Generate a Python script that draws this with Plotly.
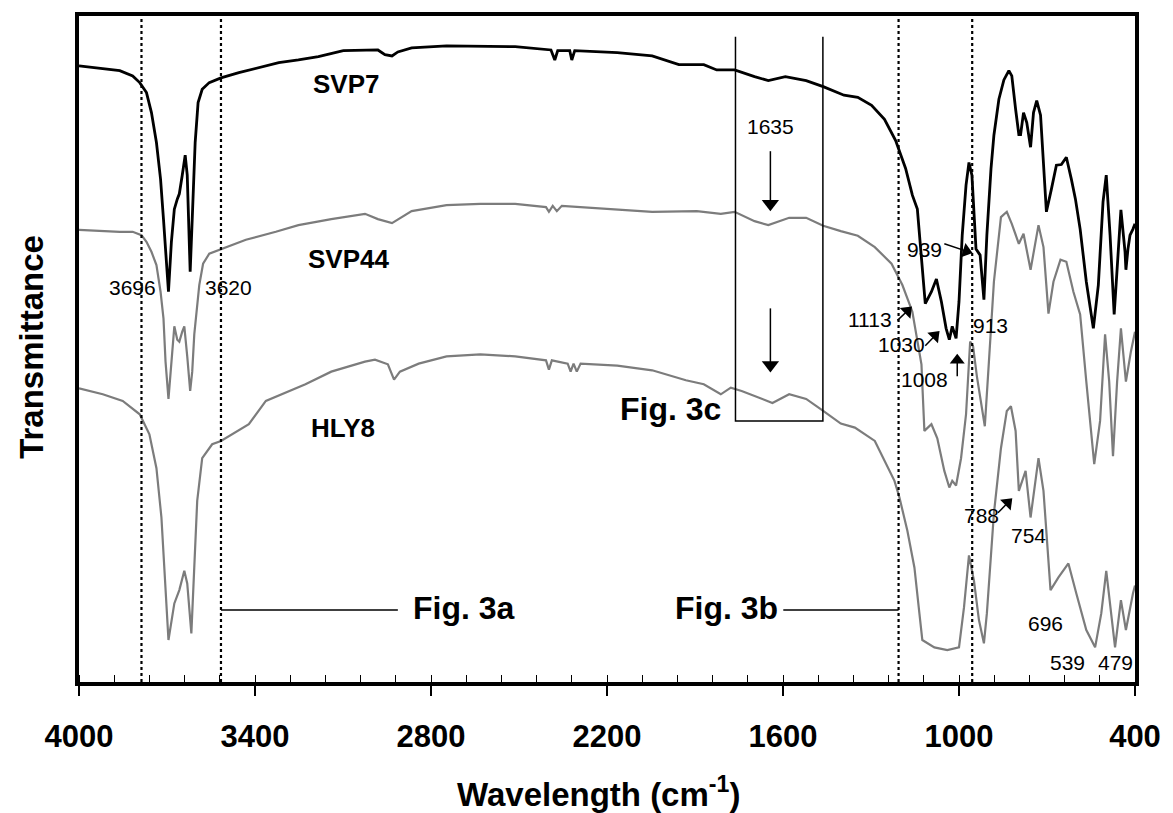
import plotly.graph_objects as go

# ---------------- data (wavenumber in cm-1, transmittance in arbitrary %) ----------------
svp7_wn = [4000,3929,3861,3817,3793,3770,3753,3736,3722,3712,3702,3695,3685,3675,3665,3658,3648,3638,3631,3624,
           3621,3614,3604,3594,3580,3556,3516,3455,3387,3319,3252,3184,3099,2981,2957,2933,2913,2866,2747,2632,
           2513,2391,2378,2368,2327,2320,2310,2165,2046,1955,1870,1826,1765,1697,1650,1592,1521,1463,1392,1345,
           1298,1254,1216,1182,1159,1142,1125,1115,1094,1077,1060,1044,1033,1023,1010,1000,989,976,966,956,
           942,928,915,905,891,881,864,847,830,820,807,796,790,780,769,756,746,735,722,712,
           702,685,668,651,634,617,603,587,566,542,525,509,498,485,471,461,448,434,431,424,417,407,400]
svp7_t = [92.5,92.2,91.8,91.0,90.0,88.5,85.5,81.0,75.5,69.5,63.1,58.6,66.1,71.0,72.5,73.3,76.1,79.1,76.1,67.1,
          61.6,69.5,81.0,87.0,89.0,90.0,90.7,91.5,92.2,93.0,93.4,93.9,94.8,94.9,94.2,94.0,94.6,95.2,95.5,95.5,
          95.4,94.9,93.4,94.8,94.8,93.4,94.8,94.5,94.0,92.7,92.7,91.9,91.9,90.9,90.3,90.9,90.3,89.4,88.1,87.8,
          86.6,84.5,81.3,77.1,73.1,71.0,62.0,56.8,58.6,60.5,57.1,53.1,51.4,53.4,51.6,57.1,67.1,74.6,78.0,76.1,
          65.0,64.1,57.4,67.1,77.0,82.1,87.5,90.4,91.8,91.0,86.0,82.2,82.2,85.5,84.0,80.3,85.5,87.3,85.1,78.0,
          70.6,74.0,77.6,77.7,78.8,75.5,72.5,68.0,60.1,53.1,59.6,72.1,76.1,67.1,55.2,62.0,70.9,64.6,61.9,65.0,
          67.1,68.0,68.8]

svp44_wn = [4000,3929,3861,3817,3787,3770,3753,3736,3722,3712,3705,3695,3685,3675,3665,3658,3648,3641,3631,3621,
            3614,3607,3590,3577,3556,3516,3431,3329,3252,3140,3025,2981,2933,2866,2747,2632,2513,2408,2398,2385,
            2371,2354,2280,2046,1894,1812,1765,1697,1650,1579,1521,1463,1403,1345,1287,1230,1193,1159,1128,1118,
            1094,1074,1050,1033,1023,1010,993,976,962,952,939,922,912,898,881,857,837,820,796,780,
            756,729,712,695,678,654,634,610,587,566,539,519,502,488,475,461,448,431,414,400]
svp44_t = [67.9,67.7,67.6,67.6,67.1,66.1,64.6,62.6,58.6,54.6,48.1,42.5,48.1,53.4,51.4,51.1,52.6,53.4,48.9,43.7,
           46.6,52.2,59.6,62.8,64.3,65.0,66.4,67.6,68.6,69.5,70.3,69.5,68.9,70.7,71.6,71.8,71.8,71.3,70.6,71.5,
           70.7,71.5,71.3,70.6,70.7,70.3,70.6,69.2,68.6,69.7,69.7,68.5,67.7,67.0,65.3,62.8,59.6,55.6,47.7,37.7,
           38.7,36.6,31.7,29.2,30.2,29.5,33.6,40.2,51.1,50.4,45.9,40.7,38.4,48.1,60.1,69.8,70.6,68.8,65.8,67.3,
           61.9,68.6,65.3,55.3,60.1,63.4,63.1,58.6,55.2,45.1,32.7,39.2,52.2,45.1,33.9,45.1,53.1,45.1,49.6,52.6]

hly8_wn = [4000,3919,3851,3793,3760,3736,3719,3705,3695,3675,3658,3641,3631,3617,3607,3597,3580,3546,3516,3478,
           3421,3363,3296,3228,3140,3025,2991,2947,2926,2906,2842,2747,2632,2513,2408,2398,2388,2334,2324,2314,
           2303,2290,2165,2046,1931,1870,1812,1778,1741,1697,1636,1579,1521,1463,1403,1355,1287,1220,1203,1176,
           1152,1135,1125,1084,1040,1000,983,966,949,932,915,905,881,857,837,823,807,796,773,756,
           729,712,688,661,627,600,566,536,515,498,468,448,431,407,400]
hly8_t = [44.1,43.2,42.2,40.2,37.2,32.1,24.7,14.8,6.3,11.8,13.8,16.7,14.8,7.3,17.2,27.2,33.6,35.7,36.2,37.2,
          38.7,42.2,43.5,44.7,46.6,48.1,48.4,47.7,45.4,46.6,47.8,48.9,49.2,48.9,48.3,46.9,48.3,47.8,46.6,47.8,
          46.6,47.8,47.5,46.8,45.3,44.7,43.2,44.2,43.7,42.9,41.9,43.2,42.5,40.7,38.8,38.2,36.2,30.2,27.7,22.7,
          17.2,10.3,6.3,5.2,4.8,5.2,11.2,19.0,15.2,9.3,5.8,10.3,25.3,35.1,40.7,41.4,37.7,28.7,31.7,24.7,
          33.6,28.7,13.8,15.7,17.8,13.3,7.8,5.2,10.3,16.7,5.2,12.3,7.8,13.3,14.5]

x_ticks = [4000, 3400, 2800, 2200, 1600, 1000, 400]
region_lines = [3787, 3516, 1206, 955]          # dotted boundaries of Fig. 3a / 3b
peak_labels = ["3696", "3620", "1635", "1113", "1030", "1008", "939", "913", "788", "754", "696", "539", "479"]
series_labels = ["SVP7", "SVP44", "HLY8"]

FONT = "Liberation Sans, Arial, Helvetica, sans-serif"

fig = go.Figure()
fig.add_trace(go.Scatter(x=svp44_wn, y=svp44_t, mode="lines", line=dict(color="#7c7c7c", width=2.2), name="SVP44"))
fig.add_trace(go.Scatter(x=hly8_wn, y=hly8_t, mode="lines", line=dict(color="#7c7c7c", width=2.2), name="HLY8"))
fig.add_trace(go.Scatter(x=svp7_wn, y=svp7_t, mode="lines", line=dict(color="black", width=2.8), name="SVP7"))

shapes = []
for v in region_lines:
    shapes.append(dict(type="line", xref="x", yref="y", x0=v, x1=v, y0=0, y1=100,
                       line=dict(color="black", width=2.2, dash="dot")))
# Fig. 3c open box
shapes.append(dict(type="path", xref="x", yref="y",
                   path="M 1762,96.9 L 1762,39.2 L 1464,39.2 L 1464,96.9",
                   line=dict(color="black", width=1.5)))
# Fig. 3a / 3b leader lines
shapes.append(dict(type="line", xref="x", yref="y", x0=3516, x1=2913, y0=10.8, y1=10.8,
                   line=dict(color="black", width=1.5)))
shapes.append(dict(type="line", xref="x", yref="y", x0=1599, x1=1206, y0=10.8, y1=10.8,
                   line=dict(color="black", width=1.5)))

# arrows: stem (tail -> head centre) + filled triangular head
# (tail_wn, tail_T, head_wn, head_T, symbol, angle, size)
arrows = [
    (1643, 79.7, 1643, 71.8, "triangle-down", 0, 15),
    (1643, 56.1, 1643, 47.6, "triangle-down", 0, 15),
    (1006, 45.9, 1006, 48.3, "triangle-up", 0, 13),
    (1050, 65.8, 975, 64.7, "triangle-right", 17, 13),
    (1210, 54.3, 1176, 55.7, "triangle-up", 45, 13),
    (1115, 50.5, 1082, 52.0, "triangle-up", 45, 13),
    (867, 25.4, 834, 26.9, "triangle-up", 45, 13),
]
for tw, tt, hw, ht, sym, ang, sz in arrows:
    shapes.append(dict(type="line", xref="x", yref="y", x0=tw, y0=tt, x1=hw, y1=ht,
                       line=dict(color="black", width=1.5)))
    fig.add_trace(go.Scatter(x=[hw], y=[ht], mode="markers", hoverinfo="skip",
                             marker=dict(symbol=sym, angle=ang, size=sz, color="black",
                                         line=dict(width=0))))

ann = []
def txt(x, y, s, size, bold=False):
    ann.append(dict(x=x, y=y, xref="x", yref="y", text=("<b>%s</b>" % s) if bold else s,
                    showarrow=False, font=dict(family=FONT, size=size, color="black"),
                    xanchor="center", yanchor="middle"))

for (px, py), s in zip([(3089, 89.8), (3082, 63.5), (3099, 38.1)], series_labels):
    txt(px, py, s, 26, True)
txt(1985, 41.0, "Fig. 3c", 32, True)
txt(2689, 11.1, "Fig. 3a", 32, True)
txt(1792, 11.1, "Fig. 3b", 32, True)

pk_pos = [(3817, 59.3), (3492, 59.3), (1643, 83.4), (1304, 54.4), (1196, 50.7), (1118, 45.4), (1118, 64.9),
          (891, 53.5), (922, 25.0), (763, 22.0), (705, 8.8), (630, 3.0), (465, 3.0)]
for (px, py), s in zip(pk_pos, peak_labels):
    txt(px, py, s, 21)

# axis titles (placed as paper-anchored texts so the plot frame keeps its size)
ann.append(dict(x=0.492, y=-0.165, xref="paper", yref="paper", text="<b>Wavelength (cm<sup>-1</sup>)</b>",
                showarrow=False, font=dict(family=FONT, size=33, color="black"), xanchor="center", yanchor="middle"))
ann.append(dict(x=-0.045, y=0.504, xref="paper", yref="paper", text="<b>Transmittance</b>", textangle=-90,
                showarrow=False, font=dict(family=FONT, size=33, color="black"), xanchor="center", yanchor="middle"))

fig.update_layout(
    width=1173, height=813,
    margin=dict(l=79, r=31, t=13, b=131),
    plot_bgcolor="white", paper_bgcolor="white",
    showlegend=False,
    shapes=shapes, annotations=ann,
    xaxis=dict(range=[4000, 400], tickvals=x_ticks, ticktext=[str(v) for v in x_ticks],
               ticks="outside", ticklen=10, tickwidth=1.5, tickcolor="black",
               minor=dict(dtick=120, tick0=400, ticks="inside", ticklen=7, tickwidth=1.2, tickcolor="black"),
               showline=True, linecolor="black", linewidth=4, mirror=True,
               showgrid=False, zeroline=False, ticklabelstandoff=14,
               tickfont=dict(family=FONT, size=31, color="black", weight="bold")),
    yaxis=dict(range=[0, 100], showticklabels=False, ticks="", showgrid=False, zeroline=False,
               showline=True, linecolor="black", linewidth=4, mirror=True),
)

fig.write_html("out.html")
